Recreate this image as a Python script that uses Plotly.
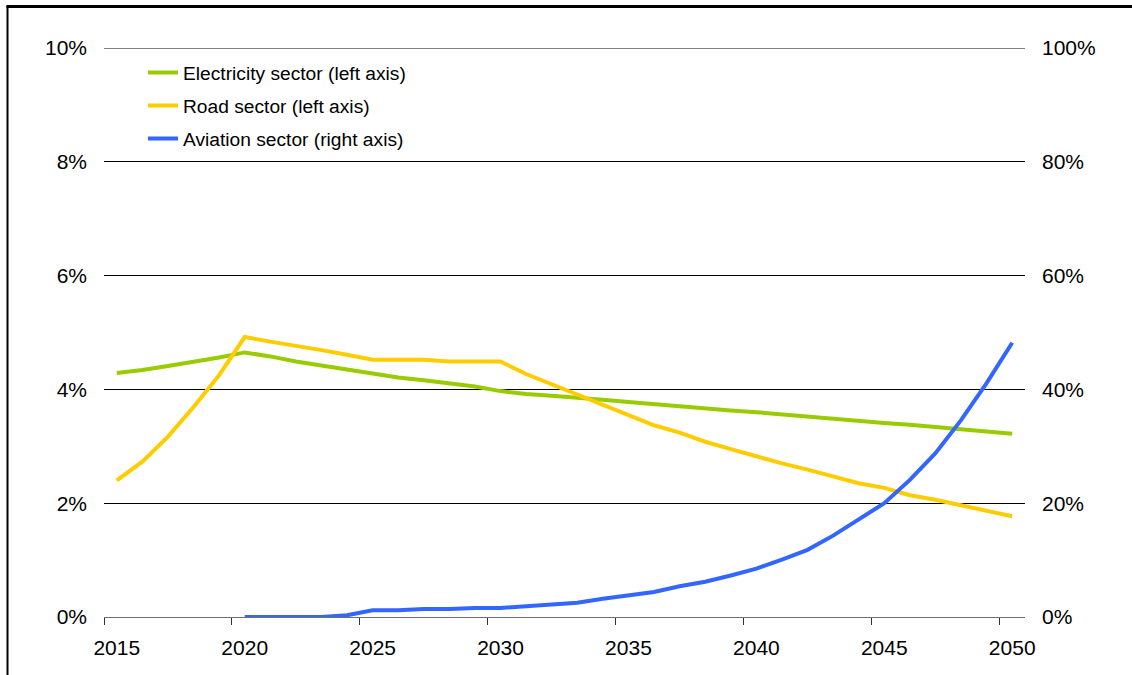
import plotly.graph_objects as go

years = list(range(2015, 2051))

electricity = [4.29, 4.34, 4.41, 4.48, 4.56, 4.65, 4.58, 4.49, 4.42, 4.34,
               4.27, 4.21, 4.16, 4.11, 4.05, 3.97, 3.92, 3.89, 3.86, 3.82,
               3.78, 3.74, 3.70, 3.66, 3.63, 3.60, 3.56, 3.52, 3.48, 3.44,
               3.41, 3.38, 3.34, 3.30, 3.27, 3.22]

road = [2.40, 2.73, 3.17, 3.69, 4.25, 4.92, 4.84, 4.77, 4.69, 4.61,
        4.52, 4.52, 4.52, 4.49, 4.49, 4.49, 4.27, 4.09, 3.92, 3.73,
        3.55, 3.37, 3.24, 3.08, 2.95, 2.82, 2.70, 2.59, 2.47, 2.35,
        2.27, 2.14, 2.06, 1.96, 1.86, 1.77]

aviation_years = list(range(2020, 2051))
aviation = [0.0, 0.0, 0.0, 0.0, 0.3, 1.2, 1.2, 1.4, 1.4, 1.6,
            1.6, 1.9, 2.1, 2.5, 3.2, 3.8, 4.4, 5.4, 6.2, 7.3,
            8.5, 10.1, 11.8, 14.3, 17.1, 20.0, 24.1, 28.8, 34.6, 41.1, 48.2]

label_years = [2015, 2020, 2025, 2030, 2035, 2040, 2045, 2050]
boundary_ticks = [y - 0.5 for y in label_years]
left_ticks = [0, 0.02, 0.04, 0.06, 0.08, 0.10]
right_ticks = [0, 0.2, 0.4, 0.6, 0.8, 1.0]

names = ["Electricity sector (left axis)", "Road sector (left axis)", "Aviation sector (right axis)"]
colors = ["#99CC00", "#FFCC00", "#3366FF"]

FONT = "Arial, Liberation Sans, sans-serif"

fig = go.Figure()
fig.add_trace(go.Scatter(x=years, y=[v / 100 for v in electricity], name=names[0],
                         legendgroup="g1", mode="lines", line=dict(color=colors[0], width=4)))
fig.add_trace(go.Scatter(x=years, y=[v / 100 for v in road], name=names[1],
                         legendgroup="g2", mode="lines", line=dict(color=colors[1], width=4)))
fig.add_trace(go.Scatter(x=aviation_years, y=[v / 100 for v in aviation], name=names[2],
                         legendgroup="g3", mode="lines", line=dict(color=colors[2], width=4),
                         yaxis="y2"))

W, H = 1132, 675
L, R, T, B = 104, 107, 47.5, 57.5
pw, ph = W - L - R, H - T - B

def px_x(p):
    return (p - L) / pw

def px_y(p):
    return (H - B - p) / ph

fig.update_layout(
    width=W, height=H,
    margin=dict(l=L, r=R, t=T, b=B, pad=0),
    paper_bgcolor="white", plot_bgcolor="white",
    font=dict(family=FONT, size=21, color="black"),
    showlegend=True,
    legend=dict(x=px_x(143), y=px_y(53), xanchor="left", yanchor="top",
                bgcolor="rgba(0,0,0,0)", font=dict(size=19.2, family=FONT),
                itemwidth=30, tracegroupgap=5, traceorder="grouped"),
    xaxis=dict(range=[2014.5, 2050.5], tickmode="array", tickvals=label_years,
               ticktext=[str(y) for y in label_years], ticks="", showgrid=False,
               zeroline=False, showline=True, linecolor="#6e6e6e", linewidth=1.2,
               ticklabelstandoff=12, tickfont=dict(size=21),
               minor=dict(tickmode="array", tickvals=boundary_ticks, ticks="outside",
                          ticklen=7, tickcolor="#333333", tickwidth=1, showgrid=False)),
    yaxis=dict(range=[0, 0.1], tickmode="array", tickvals=left_ticks,
               tickformat=".0%", showgrid=True, gridcolor="black", gridwidth=1,
               zeroline=False, showline=False, ticks="", ticklabelstandoff=16,
               tickfont=dict(size=21)),
    yaxis2=dict(range=[0, 1], tickmode="array", tickvals=right_ticks,
                tickformat=".0%", overlaying="y", side="right", showgrid=False,
                zeroline=False, showline=False, ticks="", ticklabelstandoff=16,
                tickfont=dict(size=21)),
    shapes=[
        dict(type="line", xref="paper", yref="y", x0=0, x1=1,
             y0=left_ticks[-1], y1=left_ticks[-1], line=dict(color="black", width=1),
             layer="below"),
        dict(type="line", xref="paper", yref="paper", x0=px_x(7.5), x1=px_x(7.5),
             y0=px_y(700), y1=px_y(5), line=dict(color="black", width=2)),
        dict(type="line", xref="paper", yref="paper", x0=px_x(6.5), x1=px_x(1140),
             y0=px_y(6), y1=px_y(6), line=dict(color="black", width=3)),
    ],
)

fig.write_html("out.html")
